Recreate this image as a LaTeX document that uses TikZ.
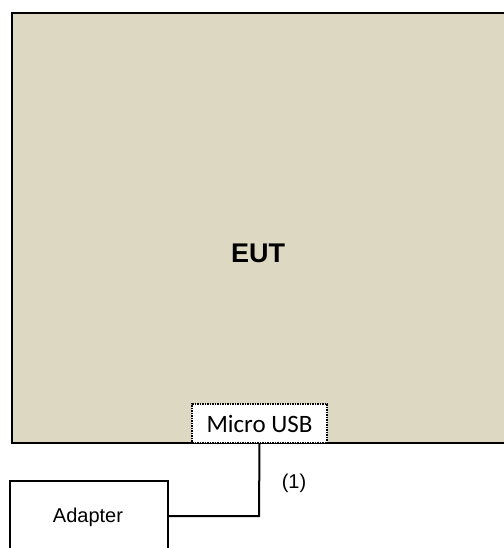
\documentclass[tikz,border=0pt]{standalone}
\usepackage{fontspec}
\setmainfont{Liberation Sans}
\newfontfamily\calib{Carlito}
\definecolor{eutfill}{RGB}{221,216,194}
\begin{document}
\begin{tikzpicture}[x=1pt,y=-1pt,
  boxline/.style={draw=black, line width=2pt},
  lbl/.style={inner sep=0pt, font=\fontsize{20}{24}\selectfont}]
\useasboundingbox (0,0) rectangle (503,548);
\fill[eutfill] (12,13) rectangle (510,443);
\draw[boxline] (510,13) -- (12,13) -- (12,443) -- (510,443);
\node[lbl, font=\fontsize{27}{30}\selectfont\bfseries] (eut) at (258,253) {EUT};
\node[draw=black, fill=white, densely dotted, line width=1.5pt, minimum width=135pt, minimum height=39pt, inner sep=0pt, font=\calib\fontsize{25}{28}\selectfont] (usb) at (259.5,423.5) {Micro USB};
\draw[boxline, fill=white] (168,560) -- (168,481) -- (10,481) -- (10,560);
\node[lbl] (adapter) at (88,517) {Adapter};
\coordinate (adr) at (168,516);
\coordinate (bend) at (259,516);
\draw[line width=2pt] (usb.south) -- (bend) -- (adr);
\node[lbl] (one) at (294,483) {(1)};
\end{tikzpicture}
\end{document}
